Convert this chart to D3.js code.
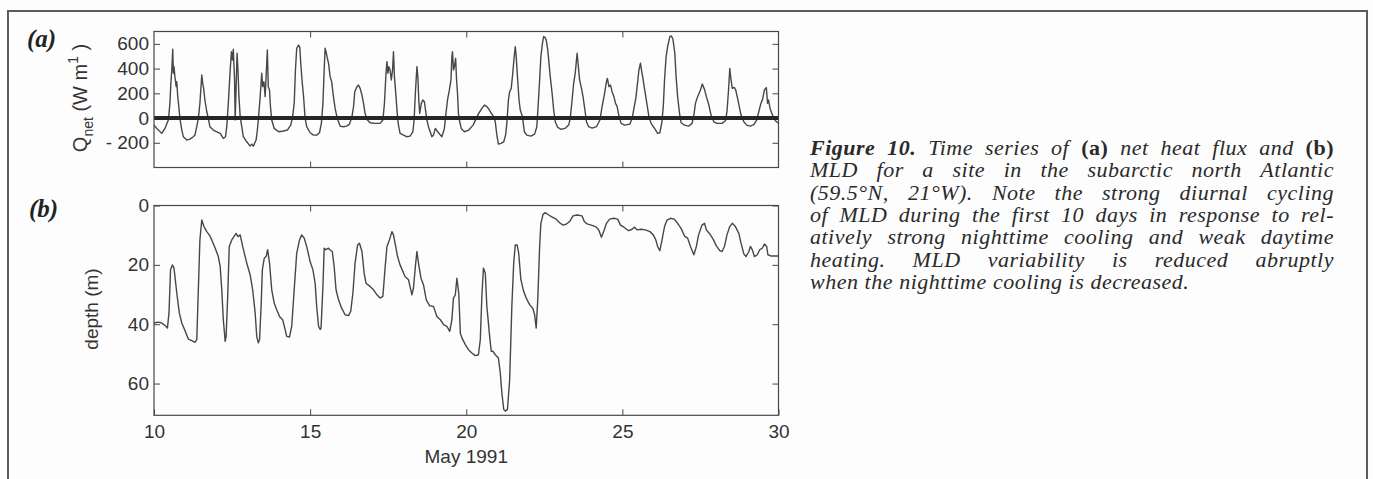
<!DOCTYPE html>
<html><head><meta charset="utf-8">
<script src="https://cdn.jsdelivr.net/npm/d3@7"></script>
<style>html,body{margin:0;padding:0;background:#fdfdfd;} svg{display:block;}</style>
</head><body>
<svg id="chart" width="1373" height="479"></svg>
<script>
// ---- data: (a) net heat flux, W m^-2 ----
const qnetDay = [10.00,10.09,10.25,10.35,10.46,10.51,10.54,10.57,10.60,10.62,10.64,10.67,10.71,10.73,10.76,10.80,10.83,10.89,10.94,11.05,11.15,11.26,11.31,11.37,11.42,11.47,11.53,11.56,11.59,11.63,11.69,11.74,11.79,11.90,12.01,12.12,12.22,12.29,12.33,12.38,12.44,12.48,12.51,12.54,12.58,12.60,12.63,12.66,12.69,12.72,12.76,12.81,12.86,12.97,13.08,13.13,13.18,13.27,13.31,13.35,13.40,13.45,13.48,13.52,13.56,13.60,13.63,13.66,13.70,13.73,13.77,13.85,13.99,14.15,14.27,14.38,14.44,14.49,14.53,14.57,14.63,14.67,14.70,14.74,14.79,14.84,14.89,15.00,15.11,15.21,15.30,15.36,15.41,15.45,15.48,15.51,15.54,15.59,15.64,15.69,15.74,15.80,15.87,15.96,16.07,16.17,16.26,16.34,16.39,16.43,16.50,16.55,16.60,16.66,16.71,16.76,16.82,16.92,17.08,17.24,17.33,17.38,17.43,17.46,17.49,17.52,17.56,17.60,17.64,17.67,17.70,17.75,17.79,17.82,17.86,17.88,17.99,18.09,18.20,18.29,18.33,18.37,18.42,18.45,18.48,18.51,18.56,18.61,18.66,18.71,18.74,18.79,18.90,18.95,19.01,19.11,19.22,19.30,19.35,19.40,19.46,19.51,19.54,19.56,19.59,19.62,19.66,19.69,19.72,19.75,19.78,19.84,19.94,20.08,20.22,20.32,20.40,20.50,20.58,20.64,20.71,20.79,20.87,20.93,20.98,21.03,21.11,21.20,21.26,21.30,21.35,21.39,21.44,21.49,21.53,21.57,21.60,21.64,21.69,21.73,21.80,21.86,21.94,22.07,22.19,22.26,22.30,22.35,22.39,22.44,22.48,22.52,22.56,22.61,22.65,22.69,22.75,22.80,22.85,22.93,23.04,23.18,23.28,23.33,23.39,23.44,23.49,23.55,23.59,23.63,23.69,23.74,23.80,23.85,23.92,24.03,24.17,24.28,24.35,24.43,24.49,24.52,24.57,24.62,24.67,24.73,24.78,24.83,24.89,24.96,25.07,25.24,25.31,25.36,25.43,25.49,25.53,25.58,25.62,25.65,25.69,25.75,25.80,25.85,25.92,26.03,26.13,26.20,26.26,26.31,26.35,26.40,26.45,26.52,26.57,26.62,26.68,26.72,26.77,26.83,26.88,26.99,27.13,27.23,27.29,27.34,27.41,27.50,27.56,27.63,27.69,27.77,27.84,27.93,28.03,28.19,28.30,28.35,28.40,28.44,28.48,28.52,28.58,28.63,28.69,28.74,28.80,28.89,28.99,29.10,29.21,29.30,29.36,29.43,29.49,29.55,29.61,29.65,29.68,29.73,29.78,29.83,29.90,29.98,30.00];
const qnetVal = [-57,-84,-124,-84,-16,119,281,389,556,362,416,335,254,294,173,78,-3,-97,-151,-178,-170,-151,-138,-70,-3,119,348,281,240,146,51,-3,-70,-97,-111,-124,-165,-151,-70,119,389,537,470,556,308,-16,254,524,389,173,11,-70,-151,-192,-227,-211,-227,-178,-97,11,173,362,254,294,173,389,551,254,227,92,-16,-84,-111,-105,-97,-57,11,119,389,564,591,572,443,308,173,-3,-70,-119,-138,-138,-119,-43,119,389,564,537,497,443,335,294,186,78,-3,-65,-70,-65,-49,11,92,213,254,267,240,186,119,38,-11,-38,-43,-43,-16,119,362,456,362,416,389,308,389,537,335,173,38,-43,-97,-124,-138,-151,-146,-111,-16,200,416,335,146,38,119,146,132,38,-16,-70,-151,-138,-84,-119,-151,-84,38,146,227,308,497,537,389,416,483,308,200,38,-16,-84,-111,-97,-57,-3,38,78,105,97,78,43,11,-30,-138,-211,-205,-192,-138,-43,146,213,240,362,483,578,497,335,146,65,11,-111,-138,-146,-130,-70,92,308,497,605,659,653,632,551,443,335,200,65,-30,-76,-92,-81,-57,-3,146,281,362,524,416,308,240,173,65,-30,-70,-81,-70,-16,92,200,294,321,254,267,213,173,119,97,16,-43,-57,-49,-3,65,159,294,389,443,375,335,267,173,92,11,-43,-84,-124,-119,-43,92,308,497,578,659,664,637,524,335,173,38,-38,-57,-65,-43,24,119,173,227,275,232,173,105,24,-30,-43,-43,-22,51,227,402,308,240,248,227,159,97,24,-30,-59,-65,-54,-16,43,113,151,227,246,119,146,78,43,11,-22,-38,-38];
const qnetZero = [0];

// ---- data: (b) mixed layer depth, m ----
const mldDay = [10.00,10.14,10.25,10.35,10.43,10.48,10.53,10.59,10.64,10.73,10.81,10.89,11.00,11.10,11.21,11.31,11.37,11.43,11.47,11.53,11.60,11.69,11.77,11.85,11.96,12.06,12.12,12.17,12.22,12.28,12.31,12.36,12.41,12.49,12.56,12.63,12.69,12.76,12.84,12.97,13.08,13.16,13.24,13.29,13.34,13.38,13.43,13.47,13.53,13.59,13.64,13.70,13.77,13.85,13.93,14.02,14.12,14.20,14.25,14.34,14.41,14.49,14.57,14.66,14.73,14.81,14.89,15.00,15.09,15.16,15.21,15.27,15.32,15.35,15.41,15.45,15.50,15.59,15.64,15.71,15.77,15.83,15.91,16.01,16.12,16.23,16.30,16.37,16.44,16.52,16.58,16.66,16.73,16.79,16.90,17.03,17.14,17.24,17.33,17.40,17.46,17.54,17.62,17.67,17.72,17.80,17.88,18.04,18.15,18.26,18.31,18.37,18.42,18.47,18.55,18.63,18.72,18.83,18.95,19.06,19.17,19.28,19.38,19.47,19.54,19.59,19.65,19.70,19.76,19.81,19.86,19.97,20.07,20.18,20.29,20.39,20.45,20.50,20.55,20.61,20.66,20.75,20.80,20.85,20.93,21.03,21.09,21.14,21.20,21.25,21.32,21.39,21.46,21.52,21.57,21.63,21.68,21.75,21.84,21.92,22.03,22.13,22.19,22.24,22.29,22.35,22.39,22.46,22.53,22.64,22.74,22.88,22.99,23.10,23.20,23.31,23.42,23.55,23.71,23.78,23.87,24.00,24.14,24.24,24.33,24.40,24.49,24.59,24.72,24.85,24.94,25.06,25.20,25.31,25.39,25.47,25.60,25.74,25.88,25.99,26.07,26.13,26.20,26.27,26.35,26.43,26.54,26.66,26.77,26.88,26.99,27.09,27.18,27.29,27.37,27.44,27.55,27.63,27.69,27.80,27.91,28.01,28.12,28.19,28.27,28.35,28.44,28.52,28.62,28.73,28.80,28.89,28.96,29.05,29.10,29.16,29.23,29.32,29.40,29.48,29.55,29.62,29.66,29.75,29.90,30.00];
const mldDepth = [39.6,39.3,39.6,40.4,41.3,36.2,21.7,20.0,21.1,29.5,36.2,39.6,42.4,45.0,45.5,46.1,45.2,25.0,11.6,4.9,7.1,8.8,9.9,11.6,14.4,17.2,20.6,28.4,38.5,45.8,44.1,30.6,13.8,11.6,10.5,9.4,10.5,9.9,13.8,19.4,23.4,28.4,36.2,44.1,46.3,45.2,34.0,21.7,17.8,17.2,14.9,19.4,28.4,32.9,35.1,37.4,38.5,41.8,44.1,44.3,40.7,28.4,16.1,11.6,9.9,11.0,13.8,18.9,21.7,26.2,34.0,40.7,41.8,41.3,27.3,14.4,14.9,14.4,15.0,15.5,20.6,28.4,31.8,34.6,36.8,37.1,35.7,29.5,19.4,13.3,12.7,15.5,22.8,26.2,27.1,28.4,30.1,31.2,30.6,21.1,13.8,11.6,8.8,9.9,12.7,17.2,20.0,23.9,25.0,30.1,27.8,20.6,15.5,19.4,24.5,26.7,31.8,33.8,34.0,37.4,38.5,40.2,40.7,42.4,38.5,31.2,30.1,24.5,29.5,43.0,44.6,46.9,48.6,49.7,50.6,50.3,45.2,30.6,21.1,22.8,34.0,44.1,49.1,49.1,50.3,51.4,56.4,63.1,68.7,69.3,68.7,58.7,34.0,19.4,13.3,13.3,16.1,25.0,29.0,31.2,33.4,34.6,36.8,41.3,31.8,13.8,6.0,3.0,2.4,3.2,3.8,4.6,5.8,6.6,6.3,5.4,3.5,3.2,3.5,5.4,6.2,6.6,7.1,8.2,10.7,8.8,6.0,4.6,4.3,4.6,6.6,7.4,8.5,8.0,7.3,8.2,8.0,8.2,8.8,9.9,11.6,13.8,15.2,11.6,7.1,4.9,4.3,4.6,6.0,7.7,10.3,11.0,13.8,16.6,13.8,9.9,6.6,6.0,8.2,9.6,11.4,13.6,15.2,15.5,13.8,9.9,7.1,6.0,7.1,9.4,12.7,16.3,17.2,15.5,13.8,14.9,17.2,16.6,14.9,14.4,13.0,13.8,16.6,17.0,17.0,17.0];

// ---- ticks & labels ----
const dayTicks = [10, 15, 20, 25, 30];
const dayInnerTicks = [15, 20, 25];
const qTicks = [600, 400, 200, 0, -200];
const qTickLabels = ["600", "400", "200", "0", "- 200"];
const depthTicks = [0, 20, 40, 60];
const xAxisLabel = "May 1991";
const depthLabel = "depth (m)";
// tokens: "*" = bold italic, "^" = bold upright
const captionLines = [
  ["*Figure", "*10.", "Time", "series", "of", "^(a)", "net", "heat", "flux", "and", "^(b)"],
  ["MLD", "for", "a", "site", "in", "the", "subarctic", "north", "Atlantic"],
  ["(59.5°N,", "21°W).", "Note", "the", "strong", "diurnal", "cycling"],
  ["of", "MLD", "during", "the", "first", "10", "days", "in", "response", "to", "rel-"],
  ["atively", "strong", "nighttime", "cooling", "and", "weak", "daytime"],
  ["heating.", "MLD", "variability", "is", "reduced", "abruptly"],
  ["when", "the", "nighttime", "cooling", "is", "decreased."]
];

// ---- drawing ----
const svg = d3.select("#chart");
const INK = "#474747";
const SANS = "'Liberation Sans', Arial, sans-serif";
const SERIF = "'Liberation Serif', 'Times New Roman', serif";

svg.append("rect").attr("width", 1373).attr("height", 479).attr("fill", "#fdfdfd");
svg.append("rect").attr("x", 8).attr("y", 11).attr("width", 1359).attr("height", 500)
  .attr("fill", "none").attr("stroke", "#5c5c5c").attr("stroke-width", 2);

const L = 154, R = 778.5;
const x = d3.scaleLinear().domain([10, 30]).range([L, R]);
const yA = d3.scaleLinear().domain([-400, 700]).range([167.5, 31.5]);
const yB = d3.scaleLinear().domain([0, 70.7]).range([205.5, 415.3]);

function styleAxis(g, size) {
  g.select(".domain").remove();
  g.selectAll(".tick line").attr("stroke", INK).attr("stroke-width", 1);
  g.selectAll(".tick text").attr("fill", "#333").attr("font-family", SANS).attr("font-size", size);
}
function frame(yScale) {
  const [y0, y1] = yScale.range();
  svg.append("rect").attr("x", L).attr("y", Math.min(y0, y1)).attr("width", R - L)
    .attr("height", Math.abs(y1 - y0)).attr("fill", "none").attr("stroke", INK).attr("stroke-width", 1.2);
}

// panel (a)
svg.append("g").attr("transform", `translate(${L},0)`)
  .call(d3.axisLeft(yA).tickValues(qTicks).tickFormat((d, i) => qTickLabels[i]).tickSizeInner(-6).tickSizeOuter(0).tickPadding(5))
  .call(g => styleAxis(g, 19));
svg.append("g").attr("transform", `translate(${R},0)`)
  .call(d3.axisRight(yA).tickValues(qTicks).tickFormat("").tickSizeInner(-6).tickSizeOuter(0))
  .call(g => styleAxis(g, 19));
svg.append("g").attr("transform", `translate(0,${yA.range()[0]})`)
  .call(d3.axisBottom(x).tickValues(dayInnerTicks).tickFormat("").tickSizeInner(-6).tickSizeOuter(0))
  .call(g => styleAxis(g, 19));
svg.append("g").attr("transform", `translate(0,${yA.range()[1]})`)
  .call(d3.axisTop(x).tickValues(dayInnerTicks).tickFormat("").tickSizeInner(-6).tickSizeOuter(0))
  .call(g => styleAxis(g, 19));

svg.append("path").datum(qnetDay.map((d, i) => [d, qnetVal[i]]))
  .attr("fill", "none").attr("stroke", INK).attr("stroke-width", 1.4).attr("stroke-linejoin", "round")
  .attr("d", d3.line().x(d => x(d[0])).y(d => yA(d[1])));
svg.selectAll("line.zero").data(qnetZero).join("line").attr("class", "zero")
  .attr("x1", L).attr("x2", R).attr("y1", d => yA(d)).attr("y2", d => yA(d))
  .attr("stroke", "#262626").attr("stroke-width", 4);
frame(yA);

// panel (b)
svg.append("g").attr("transform", `translate(${L},0)`)
  .call(d3.axisLeft(yB).tickValues(depthTicks).tickSizeInner(-6).tickSizeOuter(0).tickPadding(5))
  .call(g => styleAxis(g, 19));
svg.append("g").attr("transform", `translate(${R},0)`)
  .call(d3.axisRight(yB).tickValues(depthTicks).tickFormat("").tickSizeInner(-6).tickSizeOuter(0))
  .call(g => styleAxis(g, 19));
svg.append("g").attr("transform", `translate(0,${yB.range()[1]})`)
  .call(d3.axisBottom(x).tickValues(dayTicks).tickSizeInner(-6).tickSizeOuter(0).tickPadding(9))
  .call(g => styleAxis(g, 19));
svg.append("g").attr("transform", `translate(0,${yB.range()[0]})`)
  .call(d3.axisTop(x).tickValues(dayInnerTicks).tickFormat("").tickSizeInner(-6).tickSizeOuter(0))
  .call(g => styleAxis(g, 19));

svg.append("path").datum(mldDay.map((d, i) => [d, mldDepth[i]]))
  .attr("fill", "none").attr("stroke", INK).attr("stroke-width", 1.4).attr("stroke-linejoin", "round")
  .attr("d", d3.line().x(d => x(d[0])).y(d => yB(d[1])));
frame(yB);

// axis titles
svg.append("text").attr("x", x(20)).attr("y", 463).attr("text-anchor", "middle")
  .attr("font-family", SANS).attr("font-size", 19).attr("fill", "#333").text(xAxisLabel);
svg.append("text").attr("transform", "translate(98,309) rotate(-90)").attr("text-anchor", "middle")
  .attr("font-family", SANS).attr("font-size", 19).attr("fill", "#333").text(depthLabel);
const qLab = svg.append("text").attr("transform", "translate(87,98) rotate(-90)").attr("text-anchor", "middle")
  .attr("font-family", SANS).attr("font-size", 20).attr("fill", "#333");
qLab.append("tspan").text("Q");
qLab.append("tspan").attr("font-size", 14).attr("dy", 6).text("net");
qLab.append("tspan").attr("dy", -6).text(" (W m");
qLab.append("tspan").attr("font-size", 14).attr("dy", -9).text("1");
qLab.append("tspan").attr("dy", 9).text(" )");

// panel letters
svg.append("text").attr("x", 27).attr("y", 47).attr("font-family", SERIF).attr("font-size", 25)
  .attr("font-weight", "bold").attr("font-style", "italic").attr("fill", "#222").text("(a)");
svg.append("text").attr("x", 29).attr("y", 217).attr("font-family", SERIF).attr("font-size", 25)
  .attr("font-weight", "bold").attr("font-style", "italic").attr("fill", "#222").text("(b)");

// caption (justified)
const capX0 = 810, capX1 = 1334, capY0 = 155, capDy = 22.33, capSize = 22;
captionLines.forEach((line, i) => {
  const words = line.map(tok => {
    let txt = tok, weight = "normal", style = "italic";
    if (tok[0] === "*") { txt = tok.slice(1); weight = "bold"; }
    if (tok[0] === "^") { txt = tok.slice(1); weight = "bold"; style = "normal"; }
    const t = svg.append("text").attr("y", capY0 + i * capDy).attr("font-family", SERIF)
      .attr("font-size", capSize).attr("font-style", style).attr("font-weight", weight)
      .attr("letter-spacing", 0.5).attr("fill", "#2a2a2a").text(txt);
    return { t, w: t.node().getComputedTextLength() };
  });
  const total = d3.sum(words, d => d.w);
  const last = i === captionLines.length - 1;
  const gap = last ? capSize * 0.28 : (capX1 - capX0 - total) / (words.length - 1);
  let xx = capX0;
  words.forEach(d => { d.t.attr("x", xx); xx += d.w + gap; });
});
</script>
</body></html>
